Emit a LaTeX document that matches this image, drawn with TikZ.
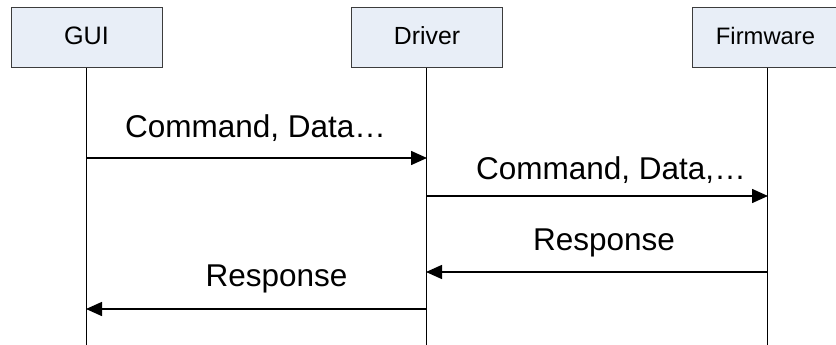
\documentclass[tikz,border=0pt]{standalone}
\usepackage{fontspec}
\setmainfont{Liberation Sans}
\usetikzlibrary{arrows.meta}
\definecolor{boxfill}{RGB}{232,238,247}
\definecolor{boxline}{RGB}{60,60,60}
\tikzset{
  actor/.style={draw=boxline, line width=1pt, fill=boxfill, minimum width=151pt, minimum height=60pt, inner sep=0pt, anchor=north},
  lifeline/.style={line width=1.5pt, black},
  msg/.style={line width=1.5pt, black, -{Triangle[length=16pt, width=14pt]}, shorten >=-0.5pt},
  msglabel/.style={anchor=base, inner sep=0pt, font=\fontsize{31.5}{36}\selectfont},
}
\begin{document}
\begin{tikzpicture}[x=1pt, y=-1pt]
\useasboundingbox (0,0) rectangle (836,345);
\node[actor] (gui) at (86.5,7) {};
\node[actor] (drv) at (426.5,7) {};
\node[actor] (fw) at (767.5,7) {};
\node[anchor=base, inner sep=0pt, font=\fontsize{25.2}{28}\selectfont] (guit) at (86.5,44.3) {GUI};
\node[anchor=base, inner sep=0pt, font=\fontsize{24.8}{28}\selectfont] (drvt) at (427,44.3) {Driver};
\node[anchor=base, inner sep=0pt, font=\fontsize{23.8}{26}\selectfont] (fwt) at (765.5,44.3) {Firmware};
\coordinate (guiend) at (86.5,345);
\coordinate (drvend) at (426.5,345);
\coordinate (fwend) at (767.5,345);
\draw[lifeline] (gui.south) -- (guiend);
\draw[lifeline] (drv.south) -- (drvend);
\draw[lifeline] (fw.south) -- (fwend);
\coordinate (g1) at (86.5,158); \coordinate (d1) at (426.5,158);
\coordinate (d2) at (426.5,196); \coordinate (f2) at (767.5,196);
\coordinate (f3) at (767.5,272); \coordinate (d3) at (426.5,272);
\coordinate (d4) at (426.5,309); \coordinate (g4) at (86.5,309);
\draw[msg] (g1) -- (d1);
\draw[msg] (d2) -- (f2);
\draw[msg] (f3) -- (d3);
\draw[msg] (d4) -- (g4);
\node[msglabel] (l1) at (255.5,137) {Command, Data…};
\node[msglabel] (l2) at (611,179) {Command, Data,…};
\node[msglabel] (l3) at (604,250) {Response};
\node[msglabel] (l4) at (276.5,286.5) {Response};
\end{tikzpicture}
\end{document}
